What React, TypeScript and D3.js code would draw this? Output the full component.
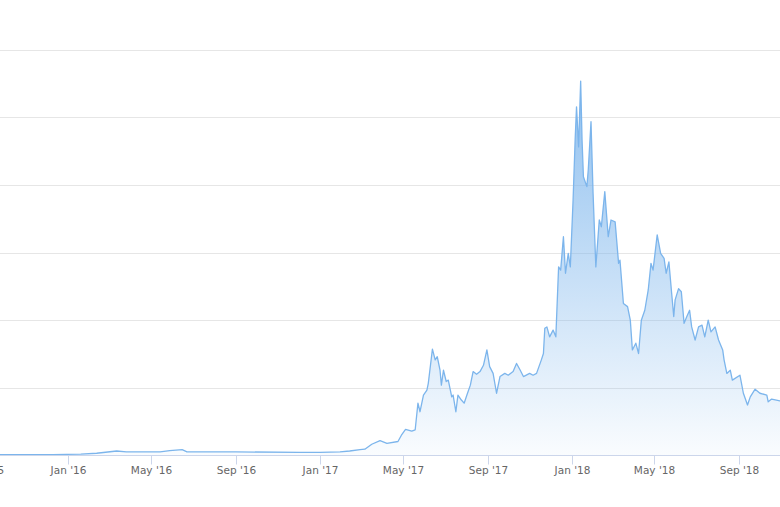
import { useEffect, useRef } from "react";
import * as d3 from "d3";

// market cap, billions USD
const dates = [
  "2015-08-20", "2015-09-25", "2015-12-10", "2016-01-20", "2016-02-12", "2016-03-12", "2016-03-26",
  "2016-05-14", "2016-05-28", "2016-06-15", "2016-06-22", "2016-09-01", "2016-12-03",
  "2017-01-01", "2017-01-30", "2017-02-13", "2017-02-28", "2017-03-07", "2017-03-17",
  "2017-03-29", "2017-04-08", "2017-04-24", "2017-04-29", "2017-05-05", "2017-05-14",
  "2017-05-19", "2017-05-23", "2017-05-26", "2017-05-31", "2017-06-05", "2017-06-07",
  "2017-06-13", "2017-06-17", "2017-06-20", "2017-06-24", "2017-06-26", "2017-06-29",
  "2017-07-03", "2017-07-06", "2017-07-11", "2017-07-13", "2017-07-17", "2017-07-20",
  "2017-07-25", "2017-07-29", "2017-08-02", "2017-08-07", "2017-08-11", "2017-08-16",
  "2017-08-21", "2017-08-26", "2017-08-31", "2017-09-04", "2017-09-09", "2017-09-14",
  "2017-09-19", "2017-09-26", "2017-10-01", "2017-10-08", "2017-10-13", "2017-10-18",
  "2017-10-23", "2017-11-01", "2017-11-06", "2017-11-11", "2017-11-18", "2017-11-21",
  "2017-11-23", "2017-11-26", "2017-11-30", "2017-12-05", "2017-12-09", "2017-12-13",
  "2017-12-16", "2017-12-20", "2017-12-23", "2017-12-27", "2017-12-30", "2018-01-03",
  "2018-01-06", "2018-01-08", "2018-01-11", "2018-01-14", "2018-01-16", "2018-01-18",
  "2018-01-23", "2018-01-25", "2018-01-29", "2018-02-01", "2018-02-05", "2018-02-10",
  "2018-02-13", "2018-02-18", "2018-02-23", "2018-02-27", "2018-03-05", "2018-03-10",
  "2018-03-12", "2018-03-17", "2018-03-23", "2018-03-27", "2018-03-30", "2018-04-04",
  "2018-04-08", "2018-04-12", "2018-04-17", "2018-04-22", "2018-04-26", "2018-04-29",
  "2018-05-05", "2018-05-10", "2018-05-15", "2018-05-18", "2018-05-22", "2018-05-26",
  "2018-05-29", "2018-05-31", "2018-06-05", "2018-06-09", "2018-06-13", "2018-06-17",
  "2018-06-21", "2018-06-24", "2018-06-29", "2018-07-04", "2018-07-09", "2018-07-13",
  "2018-07-18", "2018-07-22", "2018-07-28", "2018-08-02", "2018-08-08", "2018-08-10",
  "2018-08-14", "2018-08-19", "2018-08-22", "2018-09-02", "2018-09-07", "2018-09-13",
  "2018-09-17", "2018-09-24", "2018-10-01", "2018-10-11", "2018-10-13", "2018-10-18",
  "2018-10-30", "2018-11-10",
];
const marketCap = [
  2, 2, 2, 3, 5, 10, 8,
  8, 11, 13, 8, 8, 7,
  7, 8, 10, 13, 14, 25,
  33, 27, 31, 45, 58, 54,
  57, 116, 97, 134, 145, 160,
  236, 212, 219, 189, 156, 189,
  164, 167, 130, 134, 97, 134,
  123, 116, 134, 156, 186, 180,
  186, 200, 234, 197, 182, 138,
  175, 182, 178, 186, 204, 190,
  175, 182, 178, 182, 212, 226,
  282, 285, 263, 278, 263, 418,
  411, 485, 404, 448, 418, 566,
  700, 773, 684, 830, 700, 618,
  596, 633, 740, 581, 418, 522,
  507, 585, 485, 522, 518, 426,
  433, 337, 330, 300, 234, 249,
  226, 300, 322, 367, 426, 411,
  489, 448, 437, 404, 429, 359,
  308, 345, 370, 363, 293, 308,
  322, 285, 256, 285, 289, 263,
  300, 274, 285, 256, 234, 212,
  182, 189, 167, 178, 138, 112,
  130, 147, 138, 134, 119, 125,
  121, 121,
];
const yTicks = [0, 150, 300, 450, 600, 750, 900];

const W = 780;
const H = 507;

export default function App() {
  const svgRef = useRef<SVGSVGElement>(null);

  useEffect(() => {
    const svg = d3.select(svgRef.current!);
    svg.selectAll("*").remove();

    const parse = d3.timeParse("%Y-%m-%d");
    const data = dates.map((d, i) => ({ date: parse(d)!, value: marketCap[i] }));

    // plot is wider than the window; Jan '16 and Jan '18 anchor it
    const x = d3
      .scaleTime()
      .domain([new Date(2016, 0, 1), new Date(2018, 0, 1)])
      .range([67.7, 571.7]);
    const y = d3.scaleLinear().domain([0, 900]).range([455.5, 49.5]);

    const defs = svg.append("defs");
    const grad = defs
      .append("linearGradient")
      .attr("id", "capFill")
      .attr("gradientUnits", "userSpaceOnUse")
      .attr("x1", 0)
      .attr("x2", 0)
      .attr("y1", y(830))
      .attr("y2", y(0));
    grad.append("stop").attr("offset", 0).attr("stop-color", "#7cb5ec").attr("stop-opacity", 0.85);
    grad.append("stop").attr("offset", 1).attr("stop-color", "#7cb5ec").attr("stop-opacity", 0.04);

    // grid
    svg
      .append("g")
      .selectAll("line")
      .data(yTicks.slice(1))
      .join("line")
      .attr("x1", 0)
      .attr("x2", W)
      .attr("y1", (d) => Math.round(y(d)) + 0.5)
      .attr("y2", (d) => Math.round(y(d)) + 0.5)
      .attr("stroke", "#e6e6e6")
      .attr("stroke-width", 1);

    const area = d3
      .area<{ date: Date; value: number }>()
      .x((d) => x(d.date))
      .y0(y(0))
      .y1((d) => y(d.value));
    const line = d3
      .line<{ date: Date; value: number }>()
      .x((d) => x(d.date))
      .y((d) => y(d.value));

    svg.append("path").datum(data).attr("d", area).attr("fill", "url(#capFill)");
    svg
      .append("path")
      .datum(data)
      .attr("d", line)
      .attr("fill", "none")
      .attr("stroke", "#7cb5ec")
      .attr("stroke-width", 1.3)
      .attr("stroke-linejoin", "round");

    // x axis (Sep '15 is cut by the left edge, as in the original)
    const ax = svg.append("g").attr("transform", `translate(0,${Math.round(y(0)) - 0.5})`);
    ax.append("line").attr("x1", 0).attr("x2", W).attr("stroke", "#ccd6eb");
    const ticks = d3.timeMonth
      .every(4)!
      .range(x.invert(-40), x.invert(W - 10));
    const fmt = d3.timeFormat("%b '%y");
    const t = ax
      .selectAll("g.tick")
      .data(ticks)
      .join("g")
      .attr("class", "tick")
      .attr("transform", (d) => `translate(${Math.round(x(d)) + 0.5},0)`);
    t.append("line").attr("y1", 0).attr("y2", 9).attr("stroke", "#ccd6eb");
    t.append("text")
      .attr("y", 18)
      .attr("text-anchor", "middle")
      .attr("fill", "#666666")
      .attr("font-size", "10.5px")
      .attr("font-family", "'DejaVu Sans', sans-serif")
      .text((d) => fmt(d));
  }, []);

  return (
    <svg
      ref={svgRef}
      width={W}
      height={H}
      style={{ position: "absolute", left: 0, top: 0, background: "#fff" }}
    />
  );
}
